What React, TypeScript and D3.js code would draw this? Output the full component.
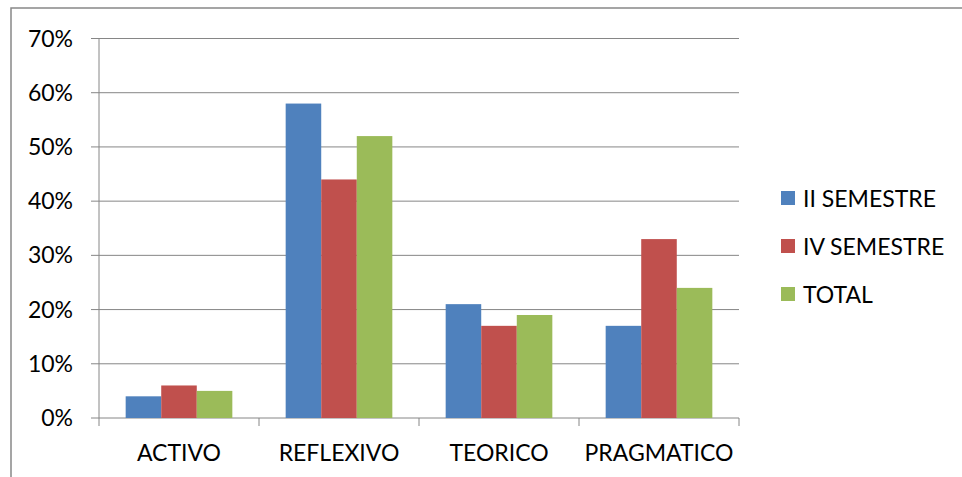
import React from "react";
import * as d3 from "d3";

const categories = ["ACTIVO", "REFLEXIVO", "TEORICO", "PRAGMATICO"];
const seriesNames = ["II SEMESTRE", "IV SEMESTRE", "TOTAL"];
const semestreII = [0.04, 0.58, 0.21, 0.17];
const semestreIV = [0.06, 0.44, 0.17, 0.33];
const total = [0.05, 0.52, 0.19, 0.24];
const yTicks = [0, 0.1, 0.2, 0.3, 0.4, 0.5, 0.6, 0.7];
const colors = ["#4F81BD", "#C0504D", "#9BBB59"];

const W = 962;
const H = 477;
const plot = { left: 99, right: 739, top: 38.5, bottom: 418 };
const font = "Lato, 'Open Sans', sans-serif";
const fs = 23;

export default function App() {
  const series = [semestreII, semestreIV, total];
  const x = d3.scaleBand<string>().domain(categories).range([plot.left, plot.right]);
  const inner = d3
    .scaleBand<number>()
    .domain([0, 1, 2])
    .range([0, x.bandwidth()])
    .paddingInner(0)
    .paddingOuter(0.75);
  const y = d3.scaleLinear().domain([0, 0.7]).range([plot.bottom, plot.top]);
  const grid = "#868686";
  const fmt = d3.format(".0%");
  const catBounds = [...categories.map((c) => x(c)!), plot.right];

  return (
    <svg
      width={W}
      height={H}
      style={{ position: "absolute", left: 0, top: 0, background: "#fff" }}
      fontFamily={font}
    >
      <rect x={11} y={8} width={W} height={H} fill="#fff" stroke="#888" strokeWidth={1.5} />
      {yTicks.map((t) => (
        <g key={t}>
          <line x1={plot.left - 8} x2={plot.right} y1={y(t)} y2={y(t)} stroke={grid} strokeWidth={1} />
          <text x={73} y={y(t)} dy="0.35em" textAnchor="end" fontSize={fs} fill="#000">
            {fmt(t)}
          </text>
        </g>
      ))}
      <line x1={plot.left} x2={plot.left} y1={plot.top} y2={plot.bottom} stroke={grid} strokeWidth={1} />
      {catBounds.map((b, i) => (
        <line key={i} x1={b} x2={b} y1={plot.bottom} y2={plot.bottom + 8} stroke={grid} strokeWidth={1} />
      ))}
      {categories.map((c, ci) => (
        <g key={c}>
          {series.map((s, si) => (
            <rect
              key={si}
              x={x(c)! + inner(si)!}
              y={y(s[ci])}
              width={inner.bandwidth()}
              height={plot.bottom - y(s[ci])}
              fill={colors[si]}
            />
          ))}
          <text x={x(c)! + x.bandwidth() / 2} y={461} textAnchor="middle" fontSize={fs} fill="#000">
            {c}
          </text>
        </g>
      ))}
      {seriesNames.map((n, i) => (
        <g key={n} transform={`translate(781, ${191 + i * 48})`}>
          <rect x={0} y={0} width={14} height={14} fill={colors[i]} />
          <text x={22} y={15.5} fontSize={fs} fill="#000">
            {n}
          </text>
        </g>
      ))}
    </svg>
  );
}
